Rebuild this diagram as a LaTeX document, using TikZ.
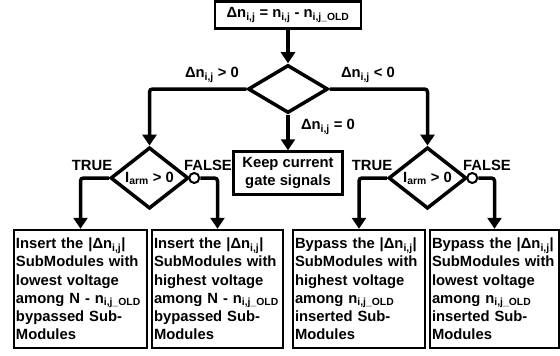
\documentclass[tikz,border=0pt]{standalone}
\usepackage{fontspec}
\setmainfont{Liberation Sans}
\usetikzlibrary{arrows.meta,positioning,shapes.geometric}

\newcommand{\dnij}{Δn\textsubscript{i,j}}
\newcommand{\nold}{n\textsubscript{i,j\_OLD}}
\newcommand{\iarm}{I\textsubscript{arm}}

\tikzset{
  flow/.style={line width=3.5pt, rounded corners=3pt, -{Triangle[length=11pt,width=14pt]}},
  outbox/.style={draw, line width=2.5pt, align=left, text width=#1, inner sep=2pt, minimum height=118pt},
  test/.style={diamond, draw, line width=3.5pt, fill=white, inner sep=0pt},
  notdot/.style={circle, draw, fill=white, line width=2pt, minimum size=10pt, inner sep=0pt}
}

\begin{document}
\begin{tikzpicture}[x=1pt,y=-1pt, font=\fontsize{14.8}{18.2}\selectfont\bfseries]
\useasboundingbox (0,0) rectangle (560,356);

% Decision on the change of inserted modules
\node[draw, line width=2.5pt, minimum width=146pt, minimum height=27pt] (diff) at (288,15) {\dnij{} = n\textsubscript{i,j} - \nold};
\node[test, minimum width=80pt, minimum height=48pt] (sign) at (288,89) {};
\node[draw, line width=2.5pt, align=center, minimum width=109pt, minimum height=43pt] (keep) at (288,173) {Keep current\\gate signals};

% Arm current tests
\node[test, minimum width=78pt, minimum height=50pt] (lcur) at (149.5,178) {\iarm{} > 0};
\node[test, minimum width=78pt, minimum height=50pt] (rcur) at (427.5,178) {\iarm{} > 0};
\node[notdot, anchor=west, xshift=-2pt] (lnot) at (lcur.east) {};
\node[notdot, anchor=west, xshift=-2pt] (rnot) at (rcur.east) {};

% Actions
\node[outbox=129pt] (ins1) at (80.5,289) {Insert the |\dnij|\\SubModules with\\lowest voltage\\among N - \nold\\bypassed Sub-\\Modules};
\node[outbox=127pt] (ins2) at (217.5,289) {Insert the |\dnij|\\SubModules with\\highest voltage\\among N - \nold\\bypassed Sub-\\Modules};
\node[outbox=128pt] (byp1) at (359,289) {Bypass the |\dnij|\\SubModules with\\highest voltage\\among \nold\\inserted Sub-\\Modules};
\node[outbox=125pt] (byp2) at (494.5,289) {Bypass the |\dnij|\\SubModules with\\lowest voltage\\among \nold\\inserted Sub-\\Modules};

% Labels
\node (gt) at (212,75) {\dnij{} > 0};
\node (lt) at (368,75) {\dnij{} < 0};
\node (eq) at (328,127) {\dnij{} = 0};
\node (ltrue) at (92,165) {TRUE};
\node (lfalse) at (208,165) {FALSE};
\node (rtrue) at (372,165) {TRUE};
\node (rfalse) at (487,165) {FALSE};

% Connectors
\draw[flow] (diff) -- (sign);
\draw[flow] (sign.west) -| (lcur.north);
\draw[flow] (sign.east) -| (rcur.north);
\draw[flow] (sign) -- (keep);
\draw[flow] (lcur.west) -| (ins1.north);
\draw[flow] (lnot.east) -| (ins2.north);
\draw[flow] (rcur.west) -| (byp1.north);
\draw[flow] (rnot.east) -| (byp2.north);
\end{tikzpicture}
\end{document}
